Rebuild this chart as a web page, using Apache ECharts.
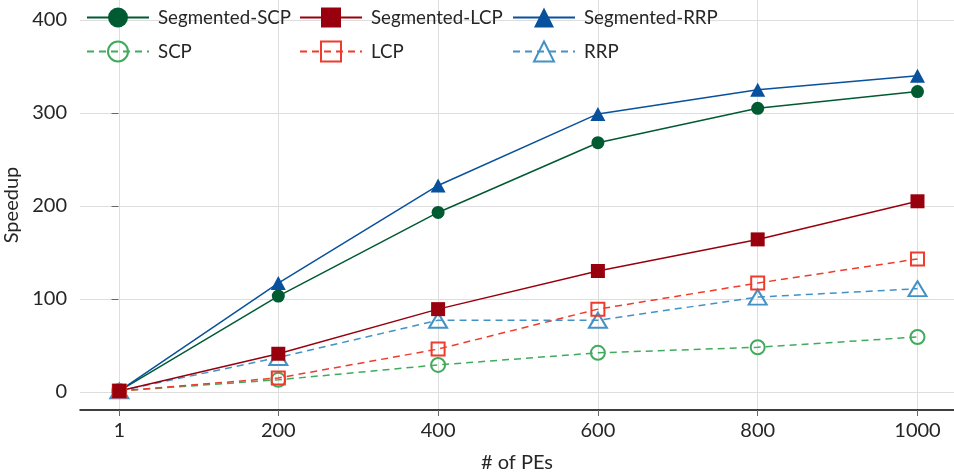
<!DOCTYPE html>
<html><head><meta charset="utf-8">
<script src="https://cdn.jsdelivr.net/npm/echarts@6/dist/echarts.min.js"></script>
<style>html,body{margin:0;padding:0;background:#fff}#c{width:954px;height:474px}</style>
</head><body><div id="c"></div>
<script>
const pes = [1, 200, 400, 600, 800, 1000];
const xTicks = [1, 200, 400, 600, 800, 1000];
const yTicks = [0, 100, 200, 300, 400];
const segSCP = [1, 103, 193, 268, 305, 323];
const segLCP = [1, 41, 89, 130, 164, 205];
const segRRP = [1, 117, 222, 299, 325, 340];
const scp = [1, 13, 29, 42, 48, 59];
const lcp = [1, 15, 46, 89, 117, 143];
const rrp = [1, 37, 77, 77, 102, 111];

const FONT = 'Lato';
const TXT = '#262626';
const pts = arr => pes.map((x, i) => [x, arr[i]]);

function mk(name, data, color, symbol, size, filled, dashed) {
  return {
    name, type: 'line', data: pts(data), symbol, symbolSize: size,
    lineStyle: {color, width: 1.5, type: dashed ? [7, 5] : 'solid'},
    itemStyle: filled ? {color, borderWidth: 0} : {color: 'rgba(0,0,0,0)', borderColor: color, borderWidth: 2},
    emphasis: {disabled: true}, animation: false
  };
}

const series = [
  mk('SCP', scp, '#41ab5d', 'circle', 14, false, true),
  mk('RRP', rrp, '#4292c6', 'triangle', [18, 15], false, true),
  mk('LCP', lcp, '#ef3b2c', 'rect', 13, false, true),
  mk('Segmented-SCP', segSCP, '#005a32', 'circle', 13, true, false),
  mk('Segmented-RRP', segRRP, '#08519c', 'triangle', [15, 14], true, false),
  mk('Segmented-LCP', segLCP, '#99000d', 'rect', 14, true, false)
];

function lg(left, names) {
  return {
    left, top: 7.5, orient: 'vertical', padding: 0, itemGap: 13,
    itemWidth: 62, itemHeight: 25, data: names, selectedMode: false,
    textStyle: {fontFamily: FONT, fontSize: 18.7, color: TXT, padding: [0, 0, 0, 4]}
  };
}

const chart = echarts.init(document.getElementById('c'), null, {renderer: 'canvas'});
chart.setOption({
  backgroundColor: '#fff',
  animation: false,
  grid: {left: 80, right: 0, top: 0, bottom: 64, containLabel: false, outerBoundsMode: 'none'},
  legend: [
    lg(86, ['Segmented-SCP', 'SCP']),
    lg(299, ['Segmented-LCP', 'LCP']),
    lg(512, ['Segmented-RRP', 'RRP'])
  ],
  xAxis: {
    type: 'value', min: -48.2, max: 1045.7,
    name: '# of PEs', nameLocation: 'middle', nameGap: 43,
    nameTextStyle: {fontFamily: FONT, fontSize: 20, color: TXT},
    axisLine: {show: true, onZero: false, lineStyle: {color: '#000', width: 1.5}},
    axisTick: {show: true, length: 6, customValues: xTicks, lineStyle: {color: '#666'}},
    axisLabel: {customValues: xTicks, margin: 11, fontFamily: FONT, fontSize: 20, color: TXT,
      formatter: v => String(Math.round(v))},
    splitLine: {show: true, lineStyle: {color: '#dedede', width: 1}}
  },
  yAxis: {
    type: 'value', min: -19.5, max: 421.5,
    name: 'Speedup', nameLocation: 'middle', nameGap: 56,
    nameTextStyle: {fontFamily: FONT, fontSize: 20, color: TXT},
    axisLine: {show: false},
    axisTick: {show: true, length: 7, customValues: yTicks, lineStyle: {color: '#666'}},
    axisLabel: {customValues: yTicks, margin: 13, fontFamily: FONT, fontSize: 20, color: TXT,
      formatter: v => String(Math.round(v))},
    splitLine: {show: true, lineStyle: {color: '#dedede', width: 1}}
  },
  series
});
</script></body></html>
